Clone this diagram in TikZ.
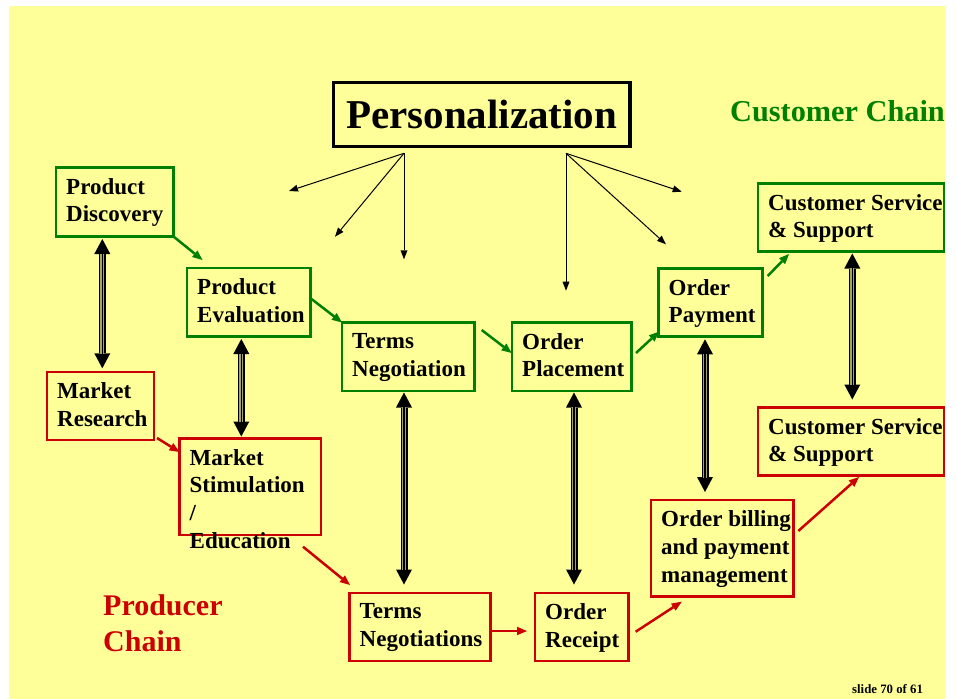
\documentclass[tikz,border=0pt]{standalone}
\usepackage{fontspec}
\setmainfont{Liberation Serif}
\usetikzlibrary{arrows.meta,calc}
\definecolor{bg}{RGB}{255,255,153}
\definecolor{gr}{RGB}{0,128,0}
\definecolor{rd}{RGB}{204,0,0}
\definecolor{dblin}{RGB}{165,165,95}
\begin{document}
\begin{tikzpicture}[x=1bp,y=-1bp,
  gbox/.style={draw=gr, line width=2.7bp, anchor=north west, inner sep=0pt, outer sep=0pt},
  rbox/.style={draw=rd, line width=2.7bp, anchor=north west, inner sep=0pt, outer sep=0pt},
  txt/.style={anchor=north west, align=left, inner sep=0pt, font=\fontsize{23bp}{27.8bp}\selectfont\bfseries},
  parrow/.style={draw=black, line width=1bp, -{Triangle[length=9bp,width=7bp,line width=0pt]}},
  garrow/.style={draw=gr, line width=2.5bp, -{Triangle[length=10bp,width=8.5bp,line width=0pt]}},
  rarrow/.style={draw=rd, line width=2.5bp, -{Triangle[length=10bp,width=8.5bp,line width=0pt]}},
  dbl/.style={draw=black, line width=7bp,
    {Triangle[length=15bp,width=16bp,line width=0pt]}-{Triangle[length=15bp,width=16bp,line width=0pt]},
    postaction={draw=dblin, line width=4.2bp, shorten <=14.5bp, shorten >=14.5bp, arrows=-},
    postaction={draw=black, line width=1.4bp, shorten <=14.5bp, shorten >=14.5bp, arrows=-}}
]
\useasboundingbox (0,0) rectangle (957,699);
\fill[bg] (9,6) rectangle (945,699);

% title box
\node[draw=black, line width=3.5bp, anchor=north west, inner sep=0pt, outer sep=0pt,
  minimum width=296.5bp, minimum height=64bp,
  font=\fontsize{41bp}{49bp}\selectfont\bfseries] (pers) at (333.5,82.5) {Personalization};

% chain labels
\node[anchor=base west, inner sep=0pt, text=gr, font=\fontsize{30.3bp}{36bp}\selectfont\bfseries] (cc) at (730,122) {Customer Chain};
\node[anchor=north west, align=left, inner sep=0pt, text=rd, font=\fontsize{30bp}{36.7bp}\selectfont\bfseries] (pc) at (103,594) {Producer\\Chain};
\node[anchor=base west, inner sep=0pt, font=\fontsize{12.8bp}{14bp}\selectfont\bfseries] (slide) at (852,693) {slide 70 of 61};

% customer chain boxes
\node[gbox, minimum width=117.5bp, minimum height=69bp] (pd) at (56,167.5) {};
\node[gbox, minimum width=123.5bp, minimum height=68.5bp] (pe) at (187,268) {};
\node[gbox, minimum width=132.5bp, minimum height=68.5bp] (tn) at (342,322.5) {};
\node[gbox, minimum width=119.5bp, minimum height=68.5bp] (opl) at (512,322.5) {};
\node[gbox, minimum width=104bp, minimum height=68bp] (opay) at (658.5,268.5) {};
\node[gbox, minimum width=186bp, minimum height=68bp] (csg) at (758,183.5) {};

% producer chain boxes
\node[rbox, minimum width=107bp, minimum height=68bp] (mr) at (47,372) {};
\node[rbox, minimum width=141.5bp, minimum height=96.5bp] (ms) at (179.5,438.5) {};
\node[rbox, minimum width=141bp, minimum height=68bp] (tns) at (349.5,593) {};
\node[rbox, minimum width=93.5bp, minimum height=68bp] (ordr) at (535,593) {};
\node[rbox, minimum width=142.5bp, minimum height=96.5bp] (ob) at (651,500) {};
\node[rbox, minimum width=186bp, minimum height=68bp] (csr) at (758,407.5) {};

% texts
\node[txt] (pdt) at ($(pd.north west)+(10,10.5)$) {Product\\Discovery};
\node[txt] (pet) at ($(pe.north west)+(10,10.5)$) {Product\\Evaluation};
\node[txt] (tnt) at ($(tn.north west)+(10,10.5)$) {Terms\\Negotiation};
\node[txt] (oplt) at ($(opl.north west)+(10,10.5)$) {Order\\Placement};
\node[txt] (opayt) at ($(opay.north west)+(10,10.5)$) {Order\\Payment};
\node[txt] (csgt) at ($(csg.north west)+(10,10.5)$) {Customer Service\\\& Support};
\node[txt] (mrt) at ($(mr.north west)+(10,10.5)$) {Market\\Research};
\node[txt] (mst) at ($(ms.north west)+(10,10.5)$) {Market\\Stimulation\\/\\Education};
\node[txt] (tnst) at ($(tns.north west)+(10,10.5)$) {Terms\\Negotiations};
\node[txt] (ordrt) at ($(ordr.north west)+(10,10.5)$) {Order\\Receipt};
\node[txt] (obt) at ($(ob.north west)+(10,10.5)$) {Order billing\\and payment\\management};
\node[txt] (csrt) at ($(csr.north west)+(10,10.5)$) {Customer Service\\\& Support};

% personalization arrows
\coordinate (pl) at (404,153.3);
\coordinate (pr) at (566,153.3);
\coordinate (t1) at (289,191);
\coordinate (t2) at (335,236.7);
\coordinate (t3) at (404,259.3);
\coordinate (t4) at (566,290.7);
\coordinate (t5) at (666,244.3);
\coordinate (t6) at (681.7,191.7);
\draw[parrow] (pl) -- (t1);
\draw[parrow] (pl) -- (t2);
\draw[parrow] (pl) -- (t3);
\draw[parrow] (pr) -- (t4);
\draw[parrow] (pr) -- (t5);
\draw[parrow] (pr) -- (t6);

% green chain arrows
\coordinate (g1e) at (202.5,260);
\coordinate (g2s) at (311.5,299);
\coordinate (g3s) at (481.7,330);
\coordinate (g3e) at (511.7,353);
\coordinate (g4s) at (636,353);
\coordinate (g4e) at (659,331.7);
\coordinate (g5s) at (767.7,276);
\coordinate (g5e) at (789,254);
\draw[garrow] (pd.south east) -- (g1e);
\draw[garrow] (g2s) -- (tn.north west);
\draw[garrow] (g3s) -- (g3e);
\draw[garrow] (g4s) -- (g4e);
\draw[garrow] (g5s) -- (g5e);

% red chain arrows
\coordinate (r1s) at (157,438);
\coordinate (r1e) at (179.5,452);
\coordinate (r2s) at (303,546.7);
\coordinate (r2e) at (350,585);
\coordinate (r3s) at (490.5,631);
\coordinate (r3e) at (527,631);
\coordinate (r4s) at (635.7,631.7);
\coordinate (r4e) at (681.7,601.7);
\coordinate (r5s) at (798.3,531);
\coordinate (r5e) at (859,477);
\draw[rarrow] (r1s) -- (r1e);
\draw[rarrow] (r2s) -- (r2e);
\draw[rarrow] (r3s) -- (r3e);
\draw[rarrow] (r4s) -- (r4e);
\draw[rarrow] (r5s) -- (r5e);

% double arrows
\draw[dbl] ($(102.3,0 |- pd.south)+(0,2.5)$) -- ($(102.3,0 |- mr.north)+(0,-3.7)$);
\draw[dbl] ($(241.3,0 |- pe.south)+(0,2.5)$) -- ($(241.3,0 |- ms.north)+(0,-2)$);
\draw[dbl] ($(404,0 |- tn.south)+(0,1.5)$) -- ($(404,0 |- tns.north)+(0,-8.5)$);
\draw[dbl] ($(574,0 |- opl.south)+(0,1.5)$) -- ($(574,0 |- ordr.north)+(0,-8.5)$);
\draw[dbl] ($(705,0 |- opay.south)+(0,2.8)$) -- ($(705,0 |- ob.north)+(0,-8)$);
\draw[dbl] ($(852.3,0 |- csg.south)+(0,2)$) -- ($(852.3,0 |- csr.north)+(0,-8)$);
\end{tikzpicture}
\end{document}
